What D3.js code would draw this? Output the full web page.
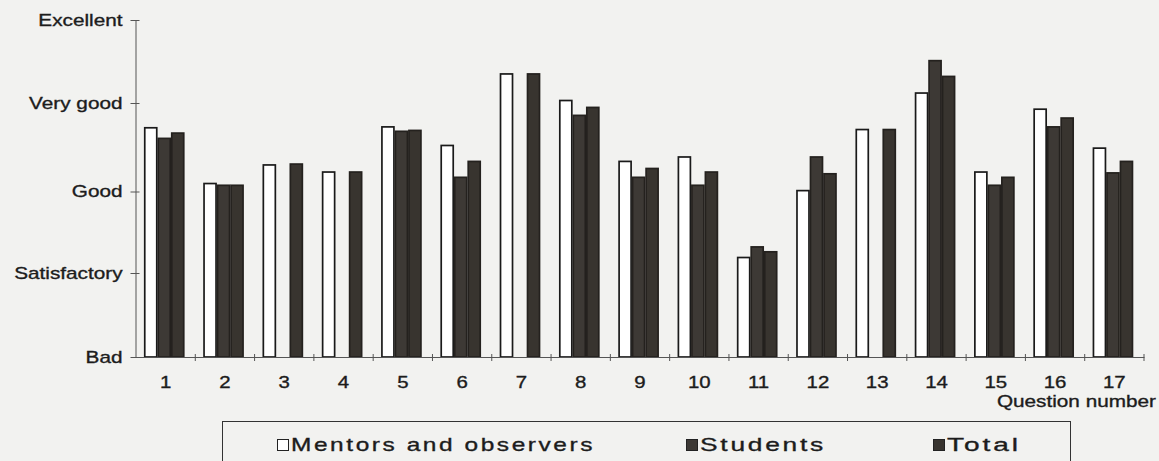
<!DOCTYPE html>
<html>
<head>
<meta charset="utf-8">
<script src="https://cdn.jsdelivr.net/npm/d3@7/dist/d3.min.js"></script>
<style>
  html, body { margin: 0; padding: 0; background: #f2f2f0; }
  svg { display: block; }
  text { font-family: "Liberation Sans", Arial, sans-serif; fill: #1c1c1c; }
</style>
</head>
<body>
<svg id="chart" width="1159" height="461"></svg>
<script>
// ---- data ----
const questions = ["1","2","3","4","5","6","7","8","9","10","11","12","13","14","15","16","17"];
const mentors  = [3.72,3.09,3.30,3.22,3.73,3.52,4.35,4.03,3.34,3.39,2.19,3.01,3.70,4.12,3.22,3.93,3.49];
const students = [3.60,3.07,null,null,3.68,3.16,null,3.86,3.16,3.07,2.32,3.39,null,4.51,3.07,3.73,3.21];
const total    = [3.66,3.07,3.31,3.22,3.69,3.34,4.35,3.95,3.26,3.22,2.26,3.20,3.70,4.32,3.16,3.83,3.34];
const ratingLabels = ["Bad","Satisfactory","Good","Very good","Excellent"];
const ratingValues = [1,2,3,4,5];
const seriesNames = ["Mentors and observers","Students","Total"];
const xTitle = "Question number";

const seriesValues = [mentors, students, total];
const svg = d3.select("#chart");

const x = d3.scaleBand().domain(questions).range([136, 1144]).paddingInner(0).paddingOuter(0);
const xInner = d3.scaleBand().domain(seriesNames).range([8, 48.5]);
// scanned original has slightly uneven tick spacing
const y = d3.scaleLinear().domain(ratingValues).range([357, 273, 191.5, 103, 20]);

const fills = {"Mentors and observers": "#ffffff", "Students": "#3d3935", "Total": "#38342f"};
const strokes = {"Mentors and observers": "#1a1a1a", "Students": "#24211e", "Total": "#24211e"};

function stretch(sel, k) {
  sel.each(function () {
    const w = this.getComputedTextLength();
    this.setAttribute("textLength", w * k);
    this.setAttribute("lengthAdjust", "spacingAndGlyphs");
  });
}

// bars
const rows = questions.map((q, i) => ({q, vals: seriesNames.map((s, j) => ({s, v: seriesValues[j][i]}))}));
const g = svg.append("g");
const groups = g.selectAll("g.grp").data(rows).join("g")
  .attr("class", "grp")
  .attr("transform", d => `translate(${x(d.q)},0)`);
groups.selectAll("rect").data(d => d.vals.filter(e => e.v != null)).join("rect")
  .attr("x", d => xInner(d.s) + 0.75)
  .attr("width", xInner.bandwidth() - 1.5)
  .attr("y", d => y(d.v))
  .attr("height", d => y(1) - y(d.v))
  .attr("fill", d => fills[d.s])
  .attr("stroke", d => strokes[d.s])
  .attr("stroke-width", 1.7);

const textStyle = sel => sel.attr("fill", "#1c1c1c").attr("stroke", "#1c1c1c").attr("stroke-width", 0.35)
  .style("font-family", '"Liberation Sans", Arial, sans-serif');

// y axis
const yAxis = svg.append("g").attr("transform", "translate(135.5,0)")
  .call(d3.axisLeft(y).tickValues(ratingValues).tickFormat((d, i) => ratingLabels[i]).tickSizeOuter(0).tickSizeInner(5).tickPadding(8));
yAxis.select(".domain").attr("stroke", "#555").attr("stroke-width", 1);
yAxis.selectAll(".tick line").attr("x1", -5).attr("x2", 4).attr("stroke", "#555");
yAxis.selectAll(".tick text").attr("font-size", 17).call(textStyle);
stretch(yAxis.selectAll(".tick text"), 1.22);

// x axis
const xAxis = svg.append("g").attr("transform", `translate(0,${y(1)})`)
  .call(d3.axisBottom(x).tickSizeOuter(0).tickSizeInner(0).tickPadding(19));
xAxis.select(".domain").attr("stroke", "#555").attr("stroke-width", 1);
xAxis.selectAll(".tick line").remove();
xAxis.selectAll(".tick text").attr("font-size", 17).call(textStyle);
stretch(xAxis.selectAll(".tick text"), 1.2);
const boundaries = questions.slice(1).map(q => x(q)).concat([x.range()[1]]);
xAxis.selectAll("line.bt").data(boundaries).join("line")
  .attr("class", "bt")
  .attr("x1", d => d).attr("x2", d => d)
  .attr("y1", -3).attr("y2", 4)
  .attr("stroke", "#555");

// x title
const xt = svg.append("text")
  .attr("x", 1156).attr("y", 407)
  .attr("text-anchor", "end")
  .attr("font-size", 17)
  .call(textStyle)
  .text(xTitle);
stretch(xt, 1.22);

// legend
const lg = svg.append("g");
lg.append("rect").attr("x", 222.5).attr("y", 421.5).attr("width", 848).attr("height", 60)
  .attr("fill", "none").attr("stroke", "#333").attr("stroke-width", 1);
const legendX = {"Mentors and observers": 277, "Students": 686, "Total": 933};
const legendW = {"Mentors and observers": 304, "Students": 126, "Total": 74};
const items = lg.selectAll("g.item").data(seriesNames).join("g").attr("class", "item")
  .attr("transform", d => `translate(${legendX[d]},0)`);
items.append("rect").attr("x", 0.5).attr("y", 439.5).attr("width", 11).attr("height", 11)
  .attr("fill", d => fills[d]).attr("stroke", "#222").attr("stroke-width", 1);
items.append("text").attr("x", 14).attr("y", 451)
  .attr("font-size", 19)
  .style("letter-spacing", "2px")
  .call(textStyle)
  .attr("textLength", d => legendW[d])
  .attr("lengthAdjust", "spacingAndGlyphs")
  .text(d => d);
</script>
</body>
</html>
